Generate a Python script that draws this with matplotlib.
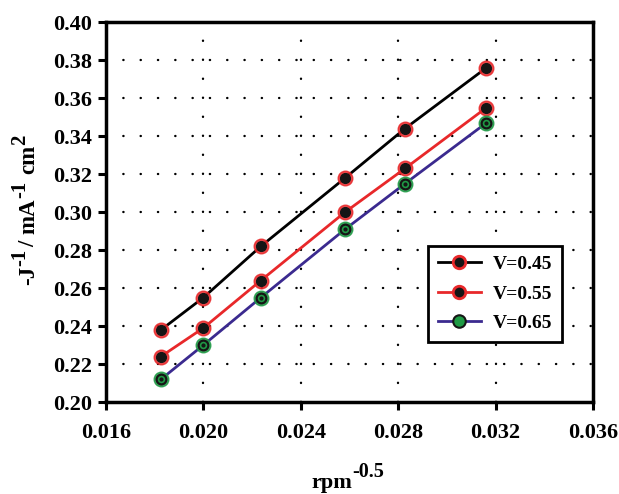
import matplotlib
matplotlib.use("Agg")
import matplotlib.pyplot as plt
from matplotlib.lines import Line2D

plt.rcParams['font.family'] = ['Liberation Serif', 'DejaVu Serif']
plt.rcParams['font.weight'] = 'bold'

x = [0.01826, 0.02, 0.02236, 0.02582, 0.02828, 0.03162]
v045 = [0.238, 0.255, 0.282, 0.318, 0.344, 0.376]
v055 = [0.224, 0.239, 0.264, 0.300, 0.323, 0.355]
v065 = [0.212, 0.230, 0.255, 0.291, 0.315, 0.347]
labels = ["V=0.45", "V=0.55", "V=0.65"]
xticks = [0.016, 0.020, 0.024, 0.028, 0.032, 0.036]
yticks = [0.20, 0.22, 0.24, 0.26, 0.28, 0.30, 0.32, 0.34, 0.36, 0.38, 0.40]

W, H = 619, 494
fig = plt.figure(figsize=(W / 100, H / 100), dpi=100)
ax = fig.add_axes([0.171, 0.186, 0.787, 0.769])

# dotted grid
for yv in yticks[1:-1]:
    ax.axhline(yv, color='black', lw=1.7, ls=(0, (0.1, 7.23)), dash_capstyle='round', zorder=1)
for xv in xticks[1:-1]:
    ax.axvline(xv, color='black', lw=1.7, ls=(0, (0.1, 7.95)), dash_capstyle='round', zorder=1)

series = [
    (v045, 'black', '#e8282a', 'black'),
    (v055, '#e8282a', '#e8282a', 'black'),
    (v065, '#3b2a8f', '#1f9a45', '#1f9a45'),
]
handles = []
for vals, lc, ring, inner in series:
    ax.plot(x, vals, color=lc, lw=2.0, zorder=3)
    ax.plot(x, vals, ls='none', marker='o', ms=10.5, mfc=ring, mec=ring, alpha=0.85, zorder=4)
    if inner == 'black':
        ax.plot(x, vals, ls='none', marker='o', ms=7, mfc='#151515', mec='#151515', zorder=5)
        h = Line2D([], [], color=lc, lw=2.0, marker='o', ms=9, mfc='#151515', mec=ring, mew=2)
    else:
        ax.plot(x, vals, ls='none', marker='o', ms=7, mfc=inner, mec='#151515', mew=1.6, zorder=5)
        ax.plot(x, vals, ls='none', marker='o', ms=2, mfc='#151515', mec='#151515', zorder=6)
        h = Line2D([], [], color=lc, lw=2.0, marker='o', ms=9, mfc=inner, mec='#151515', mew=1.5)
    handles.append(h)

ax.set_xlim(0.016, 0.036)
ax.set_ylim(0.20, 0.40)
ax.set_xticks(xticks)
ax.set_xticklabels(["%.3f" % t for t in xticks])
ax.set_yticks(yticks)
ax.set_yticklabels(["%.2f" % t for t in yticks])
ax.tick_params(axis='both', direction='out', length=6, width=2.2, labelsize=16, pad=4)
ax.tick_params(axis='x', pad=9)
for s in ax.spines.values():
    s.set_linewidth(2.5)

leg = ax.legend(handles, labels, loc='upper left', bbox_to_anchor=(0.662, 0.412),
                fontsize=14, frameon=True, fancybox=False, edgecolor='black',
                handlelength=2.2, borderpad=0.5, labelspacing=0.62, handletextpad=0.6,
                borderaxespad=0)
leg.get_frame().set_linewidth(2)
leg.get_frame().set_alpha(1)
leg.set_zorder(10)


def rich_label(pieces, center_px, base_px, vertical):
    """pieces: (text, fontsize, rise_px, gap_after_px)"""
    r = fig.canvas.get_renderer()
    widths = []
    for txt, size, rise, gap in pieces:
        t = fig.text(0, 0, txt, fontsize=size, fontweight='bold')
        widths.append(t.get_window_extent(r).width)
        t.remove()
    total = sum(w + p[3] for w, p in zip(widths, pieces)) - pieces[-1][3]
    pos = 0.0
    for (txt, size, rise, gap), w in zip(pieces, widths):
        if vertical:
            ypx = center_px + total / 2 - pos   # from top
            xpx = base_px - rise
            fig.text(xpx / W, 1 - ypx / H, txt, fontsize=size, fontweight='bold',
                     rotation=90, rotation_mode='anchor', ha='left', va='baseline')
        else:
            xpx = center_px - total / 2 + pos
            ypx = base_px - rise
            fig.text(xpx / W, 1 - ypx / H, txt, fontsize=size, fontweight='bold',
                     ha='left', va='baseline')
        pos += w + gap


rich_label([("-J", 16.5, 0, 0), ("-1", 15, 9, 2), ("/", 16.5, 0, 6),
            ("mA", 16.5, 0, 1), ("-1", 15, 9, 6), ("cm", 16.5, 0, 0),
            ("2", 15, 9, 0)],
           center_px=210, base_px=34, vertical=True)
rich_label([("rpm", 16, 0, 0), ("-0.5", 14.5, 11, 0)],
           center_px=348, base_px=488, vertical=False)

fig.savefig("out.png", dpi=100)
